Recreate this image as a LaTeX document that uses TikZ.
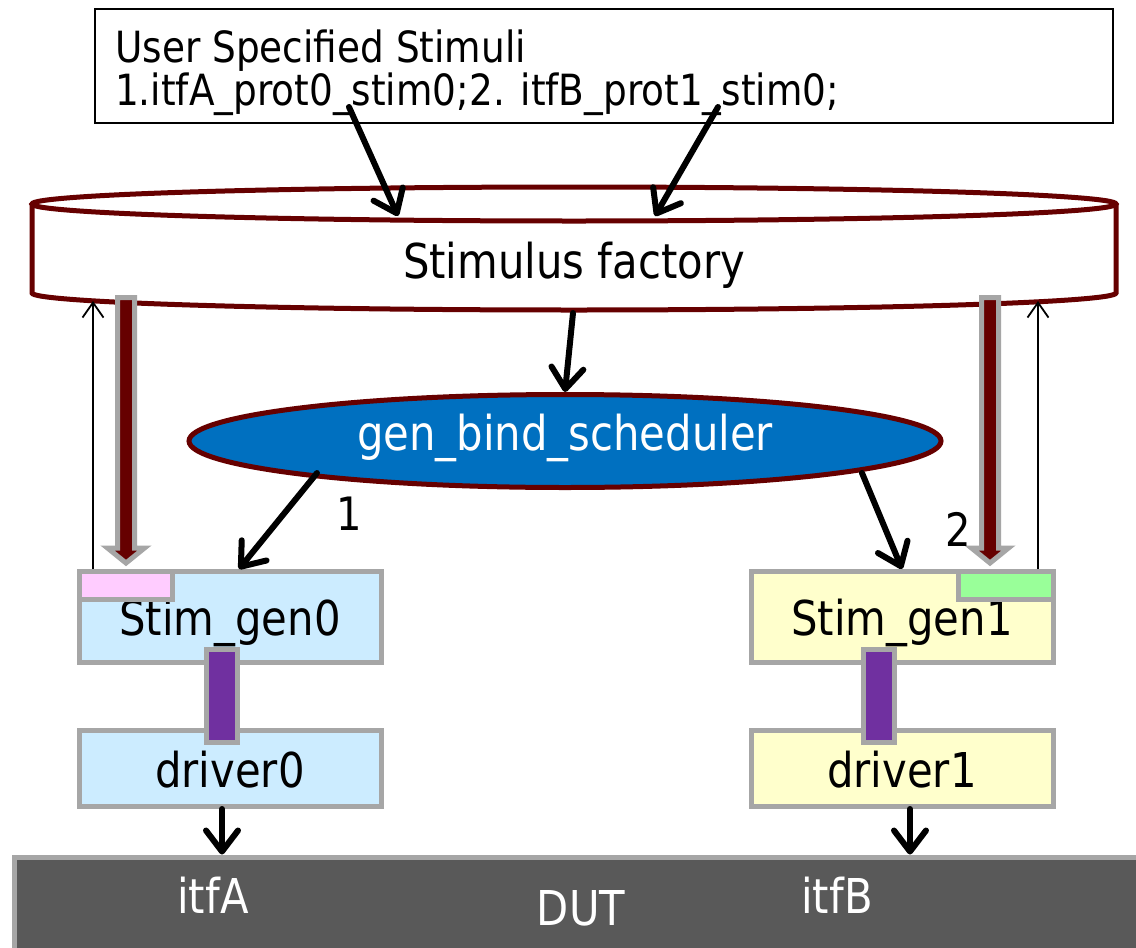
\documentclass[tikz,border=0pt]{standalone}
\usepackage{fontspec}
\setmainfont{DejaVu Sans}[FakeStretch=0.87]
\usetikzlibrary{arrows.meta,shapes.geometric,calc}
\definecolor{maroon}{HTML}{660000}
\definecolor{edge}{HTML}{A6A6A6}
\definecolor{schedblue}{HTML}{0070C0}
\definecolor{genblue}{HTML}{CCECFF}
\definecolor{genyellow}{HTML}{FFFFCC}
\definecolor{portpink}{HTML}{FFCCFF}
\definecolor{portgreen}{HTML}{99FF99}
\definecolor{linkpurple}{HTML}{7030A0}
\definecolor{dutgray}{HTML}{595959}
\begin{document}
\begin{tikzpicture}[x=1pt,y=-1pt,
  big/.style={font=\fontsize{48}{56}\selectfont},
  box/.style={draw=edge, line width=5pt, minimum width=302pt, inner sep=0pt, big},
  genbox/.style={box, minimum height=91pt, text height=36pt, text depth=0pt},
  drvbox/.style={box, minimum height=76pt, text height=37pt, text depth=0pt},
  port/.style={draw=edge, line width=5pt, minimum height=28pt, inner sep=0pt},
  link/.style={draw=edge, line width=5pt, fill=linkpurple, minimum width=31pt, minimum height=93pt, inner sep=0pt},
  cyl/.style={draw=maroon, line width=5pt},
  blk/.style={line width=6pt, line cap=round, -{Straight Barb[length=21pt,width=32pt,round]}},
  thin/.style={line width=1.8pt, -{Straight Barb[length=15pt,width=21pt]}},
  fat/.style={draw=edge, line width=5pt, fill=maroon, line join=miter,
    to path={let \p1=(\tikztostart), \p2=(\tikztotarget) in
      (\x1-8.5pt,\y1) -- (\x1+8.5pt,\y1) -- (\x1+8.5pt,\y2+15pt) -- (\x1+18.5pt,\y2+15pt)
      -- (\x1,\y2) -- (\x1-18.5pt,\y2+15pt) -- (\x1-8.5pt,\y2+15pt) -- cycle}},
]
\clip (0,0) rectangle (1136,948);
\fill[white] (0,0) rectangle (1136,948);

% user stimuli box
\node[draw=black, line width=2pt, minimum width=1018pt, minimum height=114pt, inner sep=0pt] (user) at (604,66) {};
\node[anchor=base west, inner sep=0pt, font=\fontsize{43}{43}\selectfont] (line1) at (115,62) {User Specified Stimuli};
\node[anchor=base west, inner sep=0pt, font=\fontsize{43}{43}\selectfont] (line2) at (115,105) {1.itfA\_prot0\_stim0;2. itfB\_prot1\_stim0;};

% stimulus factory cylinder
\draw[cyl] (32,204) -- (32,293) arc[start angle=180, end angle=0, x radius=542, y radius=17] -- (1116,204);
\draw[cyl] (574,204) ellipse [x radius=542, y radius=17];
\node[big, anchor=base, inner sep=0pt] (fac) at (574,278) {Stimulus factory};
\coordinate (fT1) at (398,216);
\coordinate (fT2) at (655,216);
\coordinate (fB) at (573,313);
\coordinate (fL) at (126,297.5);
\coordinate (fR) at (990,297.5);
\coordinate (tL) at (93,301);
\coordinate (tR) at (1038,301);

% scheduler
\node[ellipse, draw=maroon, fill=schedblue, line width=5pt, minimum width=752pt, minimum height=93pt,
      inner sep=0pt, text=white, big, text height=18pt, text depth=0pt] (sched) at (565,441) {gen\_bind\_scheduler};

% generators and drivers
\node[genbox, fill=genblue] (sg0) at (230,617) {Stim\_gen0};
\node[genbox, fill=genyellow] (sg1) at (902,617) {Stim\_gen1};
\node[port, fill=portpink, minimum width=93pt] (pink0) at (126,585.5) {};
\node[port, fill=portgreen, minimum width=95pt] (green1) at (1006,585.5) {};
\node[drvbox, fill=genblue] (drv0) at (230,768.5) {driver0};
\node[drvbox, fill=genyellow] (drv1) at (902,768.5) {driver1};
\node[link] (lk0) at (222,696) {};
\node[link] (lk1) at (878.5,696) {};

% DUT
\node[draw=edge, fill=dutgray, line width=5pt, minimum width=1134pt, minimum height=100pt, inner sep=0pt,
      text=white, big, text height=36pt, text depth=0pt] (dut) at (581,907) {DUT};
\node[big, text=white, anchor=base, inner sep=0pt] (itfA) at (213,913) {itfA};
\node[big, text=white, anchor=base, inner sep=0pt] (itfB) at (837,913) {itfB};

% connectors
\draw[blk] ([xshift=-255pt,yshift=17pt]user.south) -- (fT1);
\draw[blk] ([xshift=114pt,yshift=17pt]user.south) -- (fT2);
\draw[blk] (fB) -- (sched.north);
\draw[fat] (fL) to ([yshift=6pt]pink0.north);
\draw[fat] (fR) to ([xshift=-16pt,yshift=6pt]green1.north);
\draw[thin] ([xshift=16pt]pink0.north west) -- (tL);
\draw[thin] ([xshift=-18pt]green1.north east) -- (tR);
\draw[blk] ([xshift=-248pt,yshift=-32pt]sched.center) -- ([xshift=9pt]sg0.north);
\draw[blk] ([xshift=297pt,yshift=-32pt]sched.center) -- (sg1.north);
\draw[blk] ([xshift=-8pt]drv0.south) -- ([xshift=-8pt]drv0.south |- dut.north);
\draw[blk] ([xshift=8pt]drv1.south) -- ([xshift=8pt]drv1.south |- dut.north);

% sequence labels
\node[anchor=base, inner sep=0pt, font=\fontsize{46}{46}\selectfont] (n1) at (349,530) {1};
\node[anchor=base, inner sep=0pt, font=\fontsize{46}{46}\selectfont] (n2) at (958,546) {2};
\end{tikzpicture}
\end{document}
